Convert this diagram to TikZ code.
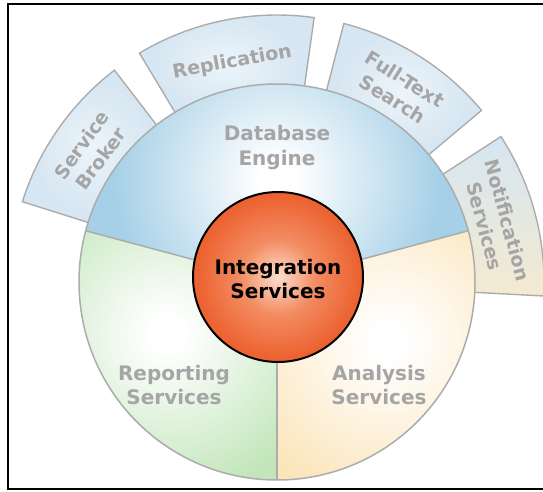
\documentclass[tikz,border=0pt]{standalone}
\usepackage{fontspec}
\setmainfont{DejaVu Sans}

% palette
\definecolor{rimgray}{RGB}{172,172,172}
\definecolor{labelgray}{RGB}{165,165,165}
\definecolor{engineblue}{RGB}{166,208,231}
\definecolor{reportgreen}{RGB}{194,230,186}
\definecolor{analysisbeige}{RGB}{251,229,186}
\definecolor{tabblue}{RGB}{214,230,242}
\definecolor{tablight}{RGB}{236,244,250}
\definecolor{tabbeige}{RGB}{244,234,208}
\definecolor{hubred}{RGB}{236,98,48}
\definecolor{hubmid}{RGB}{243,140,98}
\definecolor{hubglow}{RGB}{252,222,206}

% soft radial fills for the three segments and the hub
% (a path's bounding box spans the inner 25bp radius of a shading)
\pgfdeclareradialshading{engineglow}{\pgfpoint{0bp}{0bp}}{color(0bp)=(white); color(2bp)=(white); color(19bp)=(engineblue); color(50bp)=(engineblue)}
\pgfdeclareradialshading{reportglow}{\pgfpoint{0bp}{0bp}}{color(0bp)=(white); color(2bp)=(white); color(19bp)=(reportgreen); color(50bp)=(reportgreen)}
\pgfdeclareradialshading{analysisglow}{\pgfpoint{0bp}{0bp}}{color(0bp)=(white); color(2bp)=(white); color(19bp)=(analysisbeige); color(50bp)=(analysisbeige)}
\pgfdeclareradialshading{hubglowshade}{\pgfpoint{0bp}{0bp}}{color(0bp)=(hubglow); color(11bp)=(hubmid); color(24bp)=(hubred); color(50bp)=(hubred)}
\pgfdeclareradialshading{tabglow}{\pgfpoint{0bp}{0bp}}{color(0bp)=(tablight); color(22bp)=(tabblue); color(50bp)=(tabblue)}

% annular sector between two angles, around the hub
\newcommand\tabsector[2]{([shift={(#1:190pt)}]hub) arc[start angle=#1,end angle=#2,radius=190pt] -- ([shift={(#2:267pt)}]hub) arc[start angle=#2,end angle=#1,radius=267pt] -- cycle}

\begin{document}
\begin{tikzpicture}[x=1pt,y=1pt,
  framestroke/.style={draw=black,line width=2.5pt},
  tabbox/.style={draw=rimgray,line width=1.4pt,shading=tabglow},
  rim/.style={draw=rimgray,line width=1.5pt},
  wedgelabel/.style={text=labelgray,font=\fontsize{20}{24.5}\selectfont\bfseries,align=center,inner sep=0pt},
  tablabel/.style={text=labelgray,font=\fontsize{19}{23.5}\selectfont\bfseries,align=center,inner sep=0pt},
  hublabel/.style={text=black,font=\fontsize{20}{24}\selectfont\bfseries,align=center,inner sep=0pt}]

\useasboundingbox (0,0) rectangle (543,491);

% open frame
\draw[framestroke] (543,487) -- (8,487) -- (8,2) -- (543,2);

\coordinate (hub) at (277,209);
\coordinate (core) at (278,214);

% outer tabs
\shade[tabbox] \tabsector{127.5}{162.5};
\shade[tabbox] \tabsector{82}{121};
\shade[tabbox] \tabsector{40}{75.5};
\shade[draw=rimgray,line width=1.4pt,top color=tabblue,bottom color=tabbeige] \tabsector{-3}{33};

% three segments of the main disc
\begin{scope}
  \clip (hub) -- ([shift={(15:198pt)}]hub) arc[start angle=15,end angle=165,radius=198pt] -- cycle;
  \shade[shading=engineglow] (277,311) circle (215pt);
\end{scope}
\begin{scope}
  \clip (hub) -- ([shift={(165:198pt)}]hub) arc[start angle=165,end angle=270,radius=198pt] -- cycle;
  \shade[shading=reportglow] (167,158) circle (215pt);
\end{scope}
\begin{scope}
  \clip (hub) -- ([shift={(270:198pt)}]hub) arc[start angle=270,end angle=375,radius=198pt] -- cycle;
  \shade[shading=analysisglow] (388,150) circle (215pt);
\end{scope}

% rim and dividers
\draw[rim] (hub) circle (198pt);
\draw[rim] (hub) -- ([shift={(15:198pt)}]hub);
\draw[rim] (hub) -- ([shift={(165:198pt)}]hub);
\draw[rim] (hub) -- ([shift={(270:198pt)}]hub);

% central hub
\shade[shading=hubglowshade,draw=black,line width=2pt] (core) circle (85pt);

% labels
\node[hublabel] (integration) at (278,211.5) {Integration\\Services};
\node[wedgelabel] (engine) at (277,343.5) {Database\\Engine};
\node[wedgelabel] (reporting) at (174,106) {Reporting\\Services};
\node[wedgelabel] (analysis) at (379,106) {Analysis\\Services};

\node[tablabel,rotate=54] (broker) at ([shift={(145:227pt)}]hub) {Service\\Broker};
\node[tablabel,rotate=10] (replication) at ([shift={(101.5:224pt)}]hub) {Replication};
\node[tablabel,rotate=-32] (fulltext) at ([shift={(57.7:228pt)}]hub) {Full-Text\\Search};
\node[tablabel,rotate=-75] (notification) at ([shift={(15:227pt)}]hub) {Notification\\Services};
\end{tikzpicture}
\end{document}
